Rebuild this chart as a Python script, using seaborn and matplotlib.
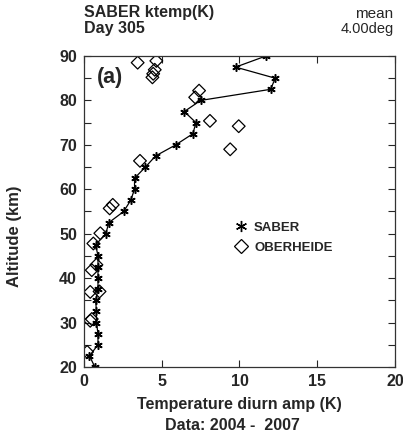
import matplotlib
matplotlib.use("Agg")
import matplotlib.pyplot as plt
import seaborn as sns
import pandas as pd
from matplotlib.lines import Line2D

# SABER diurnal temperature amplitude (K) vs altitude (km)
saber_alt = [20, 22.5, 25, 27.5, 30, 32.5, 35, 37.5, 40, 42.5, 45, 47.5, 50,
             52.5, 55, 57.5, 60, 62.5, 65, 67.5, 70, 72.5, 75, 77.5, 80,
             82.5, 85, 87.5, 90]
saber_amp = [0.7, 0.35, 0.9, 0.9, 0.8, 0.8, 0.75, 0.9, 0.9, 0.9, 0.9, 0.75, 1.4,
             1.6, 2.55, 3.0, 3.25, 3.25, 3.95, 4.6, 5.9, 7.0, 7.2, 6.45, 7.5,
             12.0, 12.3, 9.75, 11.7]

# OBERHEIDE values
ober_alt = [23.4, 30.4, 30.8, 36.9, 37.0, 41.8, 43.0, 47.8, 50.1, 55.7, 56.5,
            66.4, 69.0, 74.2, 75.4, 80.7, 82.2, 85.2, 86.0, 86.9, 88.5, 88.9]
ober_amp = [0.2, 0.4, 0.5, 0.4, 1.0, 0.5, 0.8, 0.6, 1.05, 1.65, 1.85,
            3.6, 9.4, 9.95, 8.1, 7.15, 7.4, 4.4, 4.45, 4.55, 3.45, 4.65]

saber = pd.DataFrame({"amp": saber_amp, "alt": saber_alt})
ober = pd.DataFrame({"amp": ober_amp, "alt": ober_alt})

sns.set_style("ticks")
plt.rcParams["font.family"] = ["Liberation Sans", "DejaVu Sans"]
plt.rcParams["font.weight"] = "bold"

fig = plt.figure(figsize=(4.03, 4.41), dpi=100)
ax = fig.add_axes([84 / 403, 1 - 367 / 441, 311 / 403, 311 / 441])

ast = (6, 2, 0)
sns.lineplot(data=saber, x="amp", y="alt", sort=False, estimator=None,
             color="black", lw=0.9, marker=ast, markersize=6,
             markeredgecolor="black", markeredgewidth=1.1, ax=ax)
sns.scatterplot(data=ober, x="amp", y="alt", marker="D", s=42,
                facecolor="none", edgecolor="black", linewidth=0.9, ax=ax)

ax.set_xlim(0, 20)
ax.set_ylim(20, 90)
ax.set_xticks([0, 5, 10, 15, 20])
ax.set_yticks([20, 30, 40, 50, 60, 70, 80, 90])
ax.set_yticks([25, 35, 45, 55, 65, 75, 85], minor=True)
ax.tick_params(axis="both", which="both", direction="in", top=True, right=True,
               length=5, width=0.8, labelsize=11.5, pad=5)
for lab in ax.get_xticklabels() + ax.get_yticklabels():
    lab.set_fontweight("bold")
for s in ax.spines.values():
    s.set_linewidth(0.9)
    s.set_color("#333333")

ax.set_xlabel("Temperature diurn amp (K)", fontsize=11.5, fontweight="bold",
              labelpad=6)
ax.set_ylabel("Altitude (km)", fontsize=12, fontweight="bold")
ax.yaxis.set_label_coords(-0.2, 0.42)
fig.text(232 / 403, 1 - 426 / 441, "Data: 2004 -  2007", ha="center",
         va="center", fontsize=11.5, fontweight="bold")

fig.text(84 / 403, 1 - 13 / 441, "SABER ktemp(K)", ha="left", va="center",
         fontsize=11.5, fontweight="bold")
fig.text(84 / 403, 1 - 29 / 441, "Day 305", ha="left", va="center",
         fontsize=11.5, fontweight="bold")
fig.text(393 / 403, 1 - 14 / 441, "mean", ha="right", va="center",
         fontsize=11, fontweight="normal")
fig.text(394 / 403, 1 - 29 / 441, "4.00deg", ha="right", va="center",
         fontsize=10.5, fontweight="normal")

ax.text(0.04, 0.965, "(a)", transform=ax.transAxes, ha="left", va="top",
        fontsize=15.5, fontweight="bold")

handles = [
    Line2D([], [], color="black", marker=ast, markersize=8, linestyle="none",
           markeredgewidth=1.0),
    Line2D([], [], color="black", marker="D", markersize=7, linestyle="none",
           markerfacecolor="none", markeredgewidth=0.9),
]
ax.legend(handles, ["SABER", "OBERHEIDE"], loc="upper left",
          bbox_to_anchor=(0.445, 0.505), frameon=False, handletextpad=0.5,
          labelspacing=0.55, prop={"weight": "bold", "size": 9.5},
          handlelength=1.0)

fig.savefig("out.png", dpi=100)
